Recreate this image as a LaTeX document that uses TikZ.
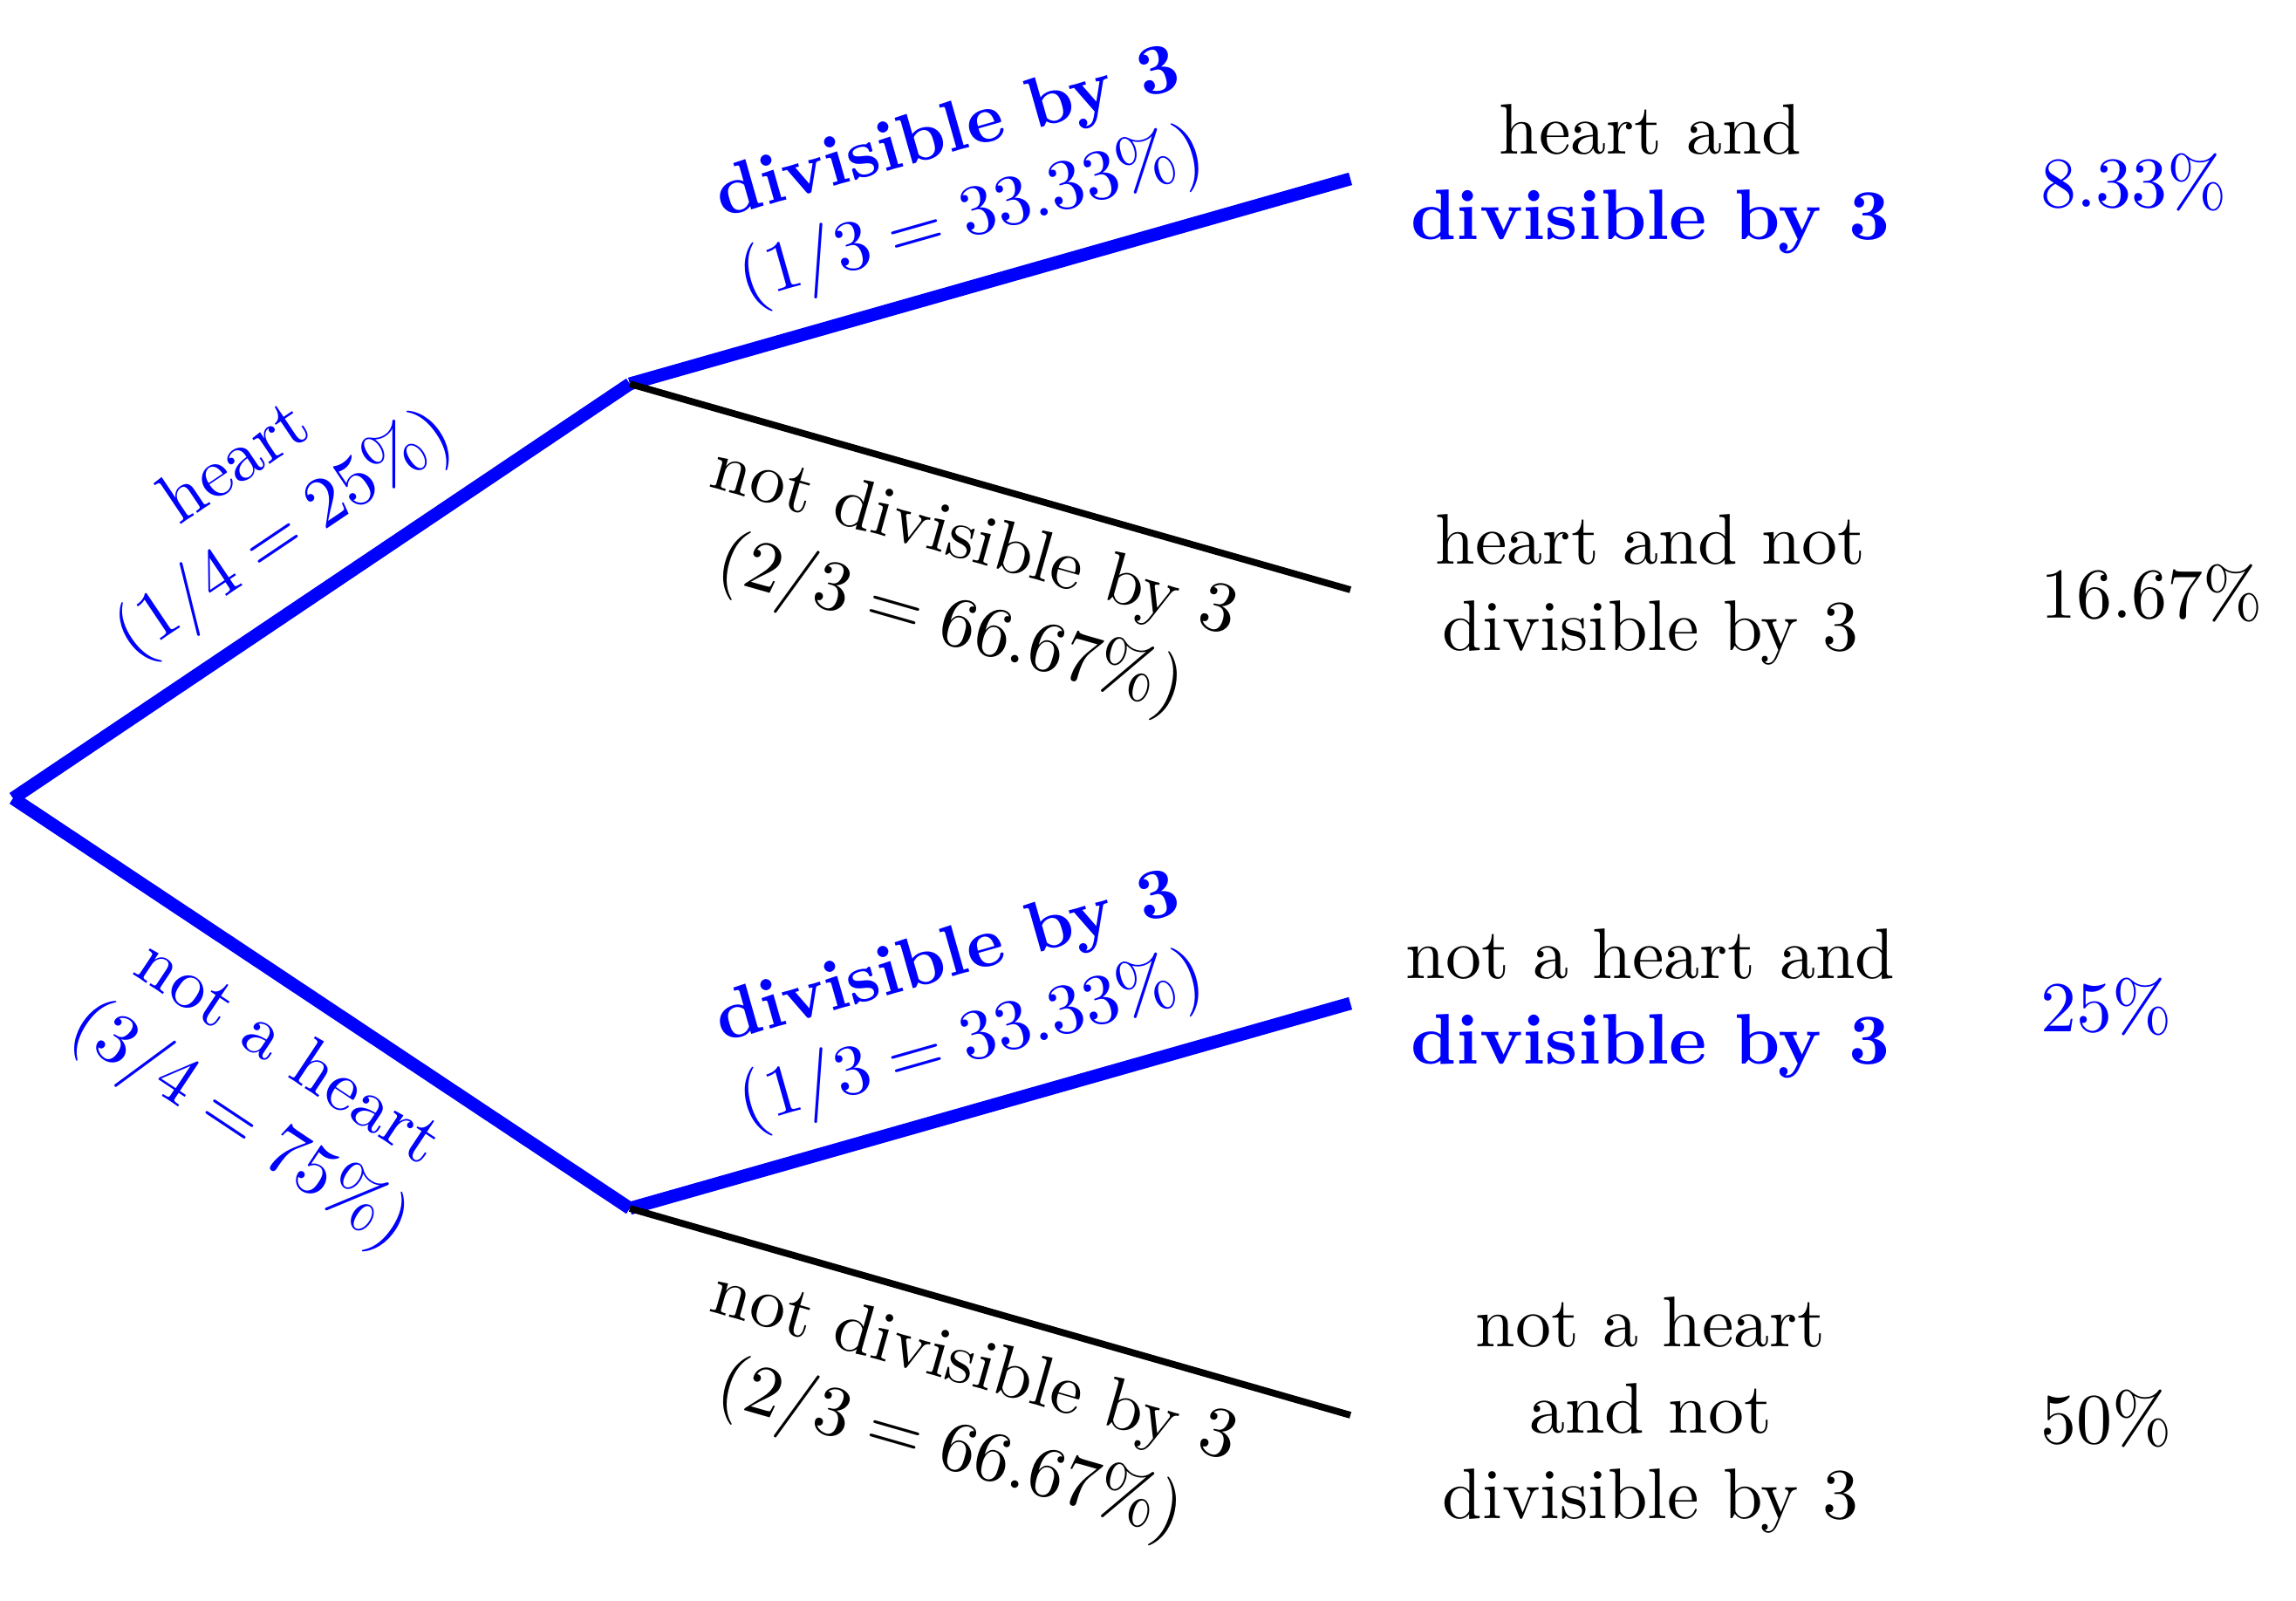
\documentclass[tikz,border=0pt]{standalone}
\usepackage{xcolor}
\usepackage{tikz}
\usetikzlibrary{positioning,calc}
\definecolor{pickblue}{RGB}{0,0,255}
\tikzset{
  hit/.style={draw=pickblue, line width=1.8pt},
  miss/.style={draw=black, line width=0.95pt},
  bluelab/.style={text=pickblue, align=center, sloped, midway},
  blacklab/.style={align=center, sloped, midway},
  outcome/.style={align=center},
  prob/.style={anchor=west},
}
\newcommand{\divthree}{\textcolor{pickblue}{\textbf{divisible by 3}}}

\begin{document}
\begin{tikzpicture}[x=0.4286cm, y=0.4286cm]
    \useasboundingbox (0,0) rectangle (26.32,18.34);
    % branch points
    \coordinate (root) at (0.15,9.19);
    \coordinate (hrt) at (7.22,13.94);
    \coordinate (nhrt) at (7.22,4.49);
    \coordinate (hd) at (15.48,16.29);
    \coordinate (hnd) at (15.48,11.58);
    \coordinate (nhd) at (15.48,6.84);
    \coordinate (nhnd) at (15.48,2.12);

    % first draw
    \draw[hit] (root) -- (hrt) node[bluelab, above] {heart\\$(1/4 = 25\%)$};
    \draw[hit] (root) -- (nhrt) node[bluelab, below] {not a heart\\$(3/4 = 75\%)$};

    % second draw
    \draw[hit] (hrt) -- (hd) node[bluelab, above] {\textbf{divisible by 3}\\$(1/3 = 33.33\%)$};
    \draw[miss] (hrt) -- (hnd) node[blacklab, below] {not divisible by 3\\$(2/3 = 66.67\%)$};
    \draw[hit] (nhrt) -- (nhd) node[bluelab, above] {\textbf{divisible by 3}\\$(1/3 = 33.33\%)$};
    \draw[miss] (nhrt) -- (nhnd) node[blacklab, below] {not divisible by 3\\$(2/3 = 66.67\%)$};

    % outcomes
    \node[outcome] (o1) at (18.92,16.29) {heart and\\\divthree};
    \node[outcome] (o2) at (18.92,11.58) {heart and not\\divisible by 3};
    \node[outcome] (o3) at (18.92,6.84) {not a heart and\\\divthree};
    \node[outcome] (o4) at (18.92,2.12) {not a heart\\and not\\divisible by 3};

    \node[prob, text=pickblue] (p1) at (23.10,16.25) {$8.33\%$};
    \node[prob] (p2) at (23.10,11.54) {$16.67\%$};
    \node[prob, text=pickblue] (p3) at (23.10,6.80) {$25\%$};
    \node[prob] (p4) at (23.10,2.08) {$50\%$};
\end{tikzpicture}
\end{document}
